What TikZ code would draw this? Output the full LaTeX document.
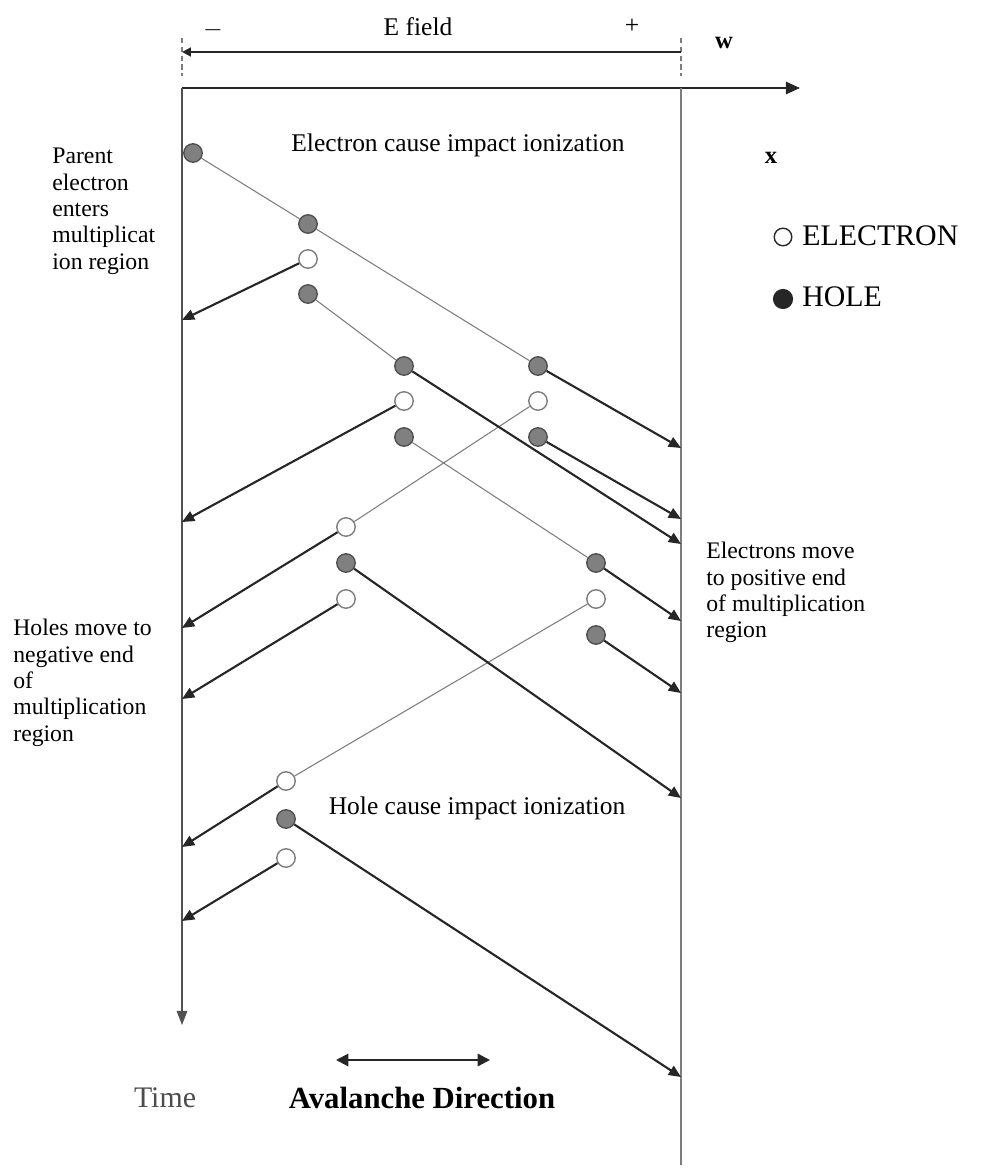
\documentclass[tikz,border=0pt]{standalone}
\usepackage{fontspec}
\setmainfont{Liberation Serif}
\usetikzlibrary{arrows.meta}
\definecolor{holeGray}{RGB}{128,128,128}
\definecolor{rimGray}{RGB}{80,80,80}
\definecolor{trackGray}{RGB}{125,125,125}
\definecolor{inkDark}{RGB}{38,38,38}

\begin{document}
\begin{tikzpicture}[x=0.02cm,y=-0.02cm,
  hole/.style={circle,draw=rimGray,fill=holeGray,line width=0.8pt,minimum size=10.5pt,inner sep=0pt},
  elec/.style={circle,draw=trackGray,fill=white,line width=0.8pt,minimum size=10.5pt,inner sep=0pt},
  track/.style={draw=trackGray,line width=0.6pt},
  drift/.style={draw=inkDark,line width=1.2pt,-{Triangle[length=7pt,width=6pt]}},
  wall/.style={draw=trackGray,line width=0.8pt},
  lbl/.style={font=\fontsize{14.5}{15}\selectfont,inner sep=0pt},
  side/.style={anchor=north west,align=left,inner sep=0pt,font=\fontsize{13.5}{15}\selectfont}]
\path[use as bounding box] (0,0) rectangle (996,1172);

% E field bar and axes
\coordinate (tl) at (182,38);
\coordinate (tr) at (681,38);
\coordinate (fl) at (182,52);
\coordinate (fr) at (681,52);
\coordinate (o) at (182,88);
\coordinate (xend) at (800,88);
\coordinate (tend) at (182,1025);
\coordinate (wtop) at (681,88);
\coordinate (wbot) at (681,1165);
\draw[wall,densely dashed] (tl) -- (182,76);
\draw[wall,densely dashed] (tr) -- (681,76);
\draw[draw=inkDark,line width=1.2pt,-{Triangle[length=5pt,width=5pt]}] (fr) -- (fl);
\node[lbl] (efield) at (418,27) {E field};
\node[lbl] (minus) at (213,30) {$-$};
\node[lbl] (plus) at (632,26) {+};
\node[lbl,font=\bfseries\fontsize{14}{15}\selectfont] (wlab) at (724,43) {w};
\draw[draw=inkDark,line width=1.1pt,-{Triangle[length=8pt,width=7pt]}] (o) -- (xend);
\node[lbl,font=\bfseries\fontsize{14}{15}\selectfont] (xlab) at (771,158) {x};
\draw[wall,draw=inkDark!80,-{Triangle[length=8pt,width=6pt]}] (o) -- (tend);
\draw[wall] (wtop) -- (wbot);

% particles
\node[hole] (p0) at (193,153) {};
\node[hole] (a1) at (308,224) {};
\node[elec] (a2) at (308,259) {};
\node[hole] (a3) at (308,294) {};
\node[hole] (b1) at (404,366) {};
\node[elec] (b2) at (404,401) {};
\node[hole] (b3) at (404,437) {};
\node[hole] (c1) at (538,366) {};
\node[elec] (c2) at (538,401) {};
\node[hole] (c3) at (538,437) {};
\node[elec] (d1) at (346,527) {};
\node[hole] (d2) at (346,563) {};
\node[elec] (d3) at (346,599) {};
\node[hole] (e1) at (596,563) {};
\node[elec] (e2) at (596,599) {};
\node[hole] (e3) at (596,635) {};
\node[elec] (f1) at (286,781) {};
\node[hole] (f2) at (286,819) {};
\node[elec] (f3) at (286,858) {};

% thin tracks
\draw[track] (p0) -- (a1);
\draw[track] (a1) -- (c1);
\draw[track] (a3) -- (b1);
\draw[track] (b3) -- (e1);
\draw[track] (c2) -- (d1);
\draw[track] (e2) -- (f1);

% ends on the walls
\coordinate (la2) at (182,320);
\coordinate (lb2) at (182,522);
\coordinate (ld1) at (182,628);
\coordinate (ld3) at (182,699);
\coordinate (lf1) at (182,847);
\coordinate (lf3) at (182,921);
\coordinate (rc1) at (681,448);
\coordinate (rc3) at (681,519);
\coordinate (rb1) at (681,544);
\coordinate (re1) at (681,621);
\coordinate (re3) at (681,693);
\coordinate (rd2) at (681,798);
\coordinate (rf2) at (681,1077);

% drift to the ends
\draw[drift] (a2) -- (la2);
\draw[drift] (b2) -- (lb2);
\draw[drift] (d1) -- (ld1);
\draw[drift] (d3) -- (ld3);
\draw[drift] (f1) -- (lf1);
\draw[drift] (f3) -- (lf3);
\draw[drift] (c1) -- (rc1);
\draw[drift] (c3) -- (rc3);
\draw[drift] (b1) -- (rb1);
\draw[drift] (e1) -- (re1);
\draw[drift] (e3) -- (re3);
\draw[drift] (d2) -- (rd2);
\draw[drift] (f2) -- (rf2);

% labels
\node[lbl] (eci) at (458,145) {Electron cause impact ionization};
\node[lbl] (hci) at (477,808) {Hole cause impact ionization};
\node[side] (parent) at (52,148) {Parent\\electron\\enters\\multiplicat\\ion region};
\node[side] (holes) at (13,619) {Holes move to\\negative end\\of\\multiplication\\region};
\node[side] (elecs) at (706,542) {Electrons move\\to positive end\\of multiplication\\region};

% legend
\node[circle,draw=inkDark,line width=0.8pt,minimum size=10pt,inner sep=0pt] (kelec) at (783,237) {};
\node[anchor=west,inner sep=0pt,font=\fontsize{17}{18}\selectfont] (kelect) at (802,236) {ELECTRON};
\node[circle,fill=inkDark,minimum size=11.5pt,inner sep=0pt] (khole) at (783,299) {};
\node[anchor=west,inner sep=0pt,font=\fontsize{17}{18}\selectfont] (kholet) at (802,297) {HOLE};

% bottom
\coordinate (av1) at (336,1060);
\coordinate (av2) at (490,1060);
\draw[draw=inkDark,line width=1.2pt,{Triangle[length=7pt,width=7pt]}-{Triangle[length=7pt,width=7pt]}] (av1) -- (av2);
\node[inner sep=0pt,font=\fontsize{17}{18}\selectfont,text=black!70] (time) at (165,1098) {Time};
\node[inner sep=0pt,font=\bfseries\fontsize{17.5}{18}\selectfont] (aval) at (422,1098) {Avalanche Direction};
\end{tikzpicture}
\end{document}
